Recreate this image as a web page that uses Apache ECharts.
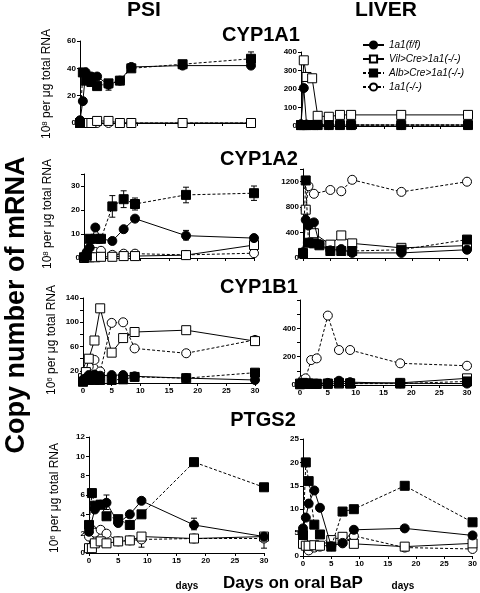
<!DOCTYPE html>
<html><head><meta charset="utf-8">
<script src="https://cdn.jsdelivr.net/npm/echarts@6/dist/echarts.min.js"></script>
<style>html,body{margin:0;padding:0;background:#fff}#c{width:480px;height:593px}</style>
</head><body><div id="c"></div>
<script>
// ---- DATA ----
const days = [0, 0.5, 1, 2, 3, 5, 7, 9, 18, 30];
const names = ['1a1(f/f)', 'Vil>Cre>1a1(-/-)', 'Alb>Cre>1a1(-/-)', '1a1(-/-)'];

// CYP1A1
const cyp1a1_psi_ff  = [2, 16, 37, 34, 34, 28, 31, 41, 42, 42];
const cyp1a1_psi_vil = [0, 0, 0, 0, 1.5, 1.5, 0, 0, 0, 0];
const cyp1a1_psi_alb = [0, 37, 31, 30, 27, 29, 31, 40, 43, 47];
const cyp1a1_psi_ko  = [0, 0, 0, 0, 0, 0, 0, 0, 0, 0];
const cyp1a1_liv_ff  = [10, 205, 8, 5, 5, 5, 5, 5, 5, 5];
const cyp1a1_liv_vil = [5, 355, 265, 258, 55, 50, 60, 60, 60, 60];
const cyp1a1_liv_alb = [5, 5, 5, 5, 5, 5, 5, 5, 5, 5];
const cyp1a1_liv_ko  = [5, 5, 5, 5, 5, 5, 5, 5, 5, 5];
// CYP1A2
const cyp1a2_psi_ff  = [0.5, 2.5, 4.3, 12.7, 8, 7.1, 12, 16.4, 9.3, 8.3];
const cyp1a2_psi_vil = [0, 0.3, 0.3, 0.3, 0.5, 0.5, 0.8, 0.8, 1.2, 5.4];
const cyp1a2_psi_alb = [0.3, 1, 8, 8, 8, 21.5, 24.5, 22.5, 26.3, 27];
const cyp1a2_psi_ko  = [0.5, 1.5, 2, 2.5, 3, 1.3, 1.8, 1.8, 1.3, 2];
const cyp1a2_liv_ff  = [90, 600, 510, 560, 220, 120, 140, 80, 80, 130];
const cyp1a2_liv_vil = [80, 760, null, 390, null, 210, 355, 230, 160, 195];
const cyp1a2_liv_alb = [70, 1220, 240, 230, 200, 110, 110, 110, 130, 290];
const cyp1a2_liv_ko  = [80, 760, 1130, 1010, null, 1070, 1050, 1230, 1040, 1200];
// CYP1B1
const cyp1b1_psi_ff  = [5, 8, 13, 14, 12, 13, 13, 11, 8, 5];
const cyp1b1_psi_vil = [8, 18, 40, 70, 123, 50, 74, 84, 87, 69];
const cyp1b1_psi_alb = [2, 6, 5, 5, 5, 5, 6, 10, 8, 17];
const cyp1b1_psi_ko  = [3, 20, 27, 38, 19, 99, 100, 57, 49, 71];
const cyp1b1_liv_ff  = [8, 10, 12, 12, 10, 15, 30, 20, 12, 10];
const cyp1b1_liv_vil = [10, 15, 12, 8, 8, 8, 10, 12, 15, 47];
const cyp1b1_liv_alb = [5, 10, 8, 8, 8, 10, 15, 10, 10, 25];
const cyp1b1_liv_ko  = [10, 35, 47, 176, 188, 490, 247, 247, 153, 136];
// PTGS2
const ptgs2_psi_ff  = [2.2, null, 4.5, 5.0, 5.2, 3.1, 4.0, 5.4, 2.9, 1.7];
const ptgs2_psi_vil = [0.5, 0.5, 1.0, 1.2, 1.0, 1.2, 1.3, 1.7, 1.5, 1.7];
const ptgs2_psi_alb = [2.9, 6.2, 4.9, 5.0, 3.8, 3.5, 2.9, 4.0, 9.4, 6.8];
const ptgs2_psi_ko  = [1.7, 2.4, 2.1, 2.4, 2.0, 1.2, 1.3, 1.4, 1.5, 1.5];
const ptgs2_liv_ff  = [5.9, 8.2, 11.2, 14, 10.3, 2.1, 2.8, 5.6, 5.9, 4.4];
const ptgs2_liv_vil = [2.6, 2.2, 2.2, 2.3, 2.2, 3.4, 4.1, 2.6, 2.0, 2.7];
const ptgs2_liv_alb = [4.5, 20, 16, 6.7, 4.6, 2.0, 9.5, 10, 15, 7.2];
const ptgs2_liv_ko  = [2.7, null, 1.2, 1.8, 2.0, 2.4, 2.7, 4.3, 1.8, 1.5];

// error bars [day, low, high]
const err_cyp1a1_psi = [[30, 43, 52], [5, 24, 31]];
const err_cyp1a2_psi = [[5, 17, 26], [7, 21, 28], [9, 20, 25], [18, 23, 29.5], [30, 24, 30], [18, 7.5, 11.5]];
const err_cyp1b1_psi = [[5, 94, 104]];
const err_ptgs2_psi  = [[3, 4.5, 6.0], [18, 2.4, 3.6], [9, 0.6, 1.8], [30, 0.5, 1.5]];

// ---- BUILD ----
const panels = [
  {g:{left:80, top:41, width:171, height:82}, y:[0,60,20], xl:false, s:[cyp1a1_psi_ff,cyp1a1_psi_vil,cyp1a1_psi_alb,cyp1a1_psi_ko], e:err_cyp1a1_psi},
  {g:{left:301, top:52, width:167, height:74}, y:[0,400,100], xl:false, s:[cyp1a1_liv_ff,cyp1a1_liv_vil,cyp1a1_liv_alb,cyp1a1_liv_ko]},
  {g:{left:84, top:174, width:170, height:84}, y:[0,35,10], xl:false, s:[cyp1a2_psi_ff,cyp1a2_psi_vil,cyp1a2_psi_alb,cyp1a2_psi_ko], e:err_cyp1a2_psi, lf:v=>v>30?'':v},
  {g:{left:303, top:169, width:164, height:89}, y:[0,1400,400], xl:false, s:[cyp1a2_liv_ff,cyp1a2_liv_vil,cyp1a2_liv_alb,cyp1a2_liv_ko], lf:v=>v>1200?'':v},
  {g:{left:83, top:298, width:172, height:85}, y:[0,140,20], xl:true, s:[cyp1b1_psi_ff,cyp1b1_psi_vil,cyp1b1_psi_alb,cyp1b1_psi_ko], e:err_cyp1b1_psi, lf:v=>((v-20)%40===0)?v:''},
  {g:{left:300, top:300, width:167, height:85}, y:[0,600,100], xl:true, s:[cyp1b1_liv_ff,cyp1b1_liv_vil,cyp1b1_liv_alb,cyp1b1_liv_ko], lf:v=>(v%200===0 && v<600)?v:''},
  {g:{left:89, top:437, width:175, height:116}, y:[0,12,2], xl:true, s:[ptgs2_psi_ff,ptgs2_psi_vil,ptgs2_psi_alb,ptgs2_psi_ko], e:err_ptgs2_psi},
  {g:{left:303, top:439, width:173, height:117}, y:[0,25,5], xl:true, s:[ptgs2_liv_ff,ptgs2_liv_vil,ptgs2_liv_alb,ptgs2_liv_ko]}
];

const styles = [
  {symbol:'circle', fill:'#000', dash:'solid'},
  {symbol:'rect', fill:'#fff', dash:'solid'},
  {symbol:'rect', fill:'#000', dash:[3,2]},
  {symbol:'circle', fill:'#fff', dash:[3,2]}
];
const drawOrder = [3, 1, 2, 0];
const FONT = 'Liberation Sans, Arial, sans-serif';

const grid = [], xAxis = [], yAxis = [], series = [];
panels.forEach((p, i) => {
  grid.push(Object.assign({containLabel:false}, p.g));
  xAxis.push({type:'value', gridIndex:i, min:0, max:30, interval:5,
    axisLine:{show:true, onZero:false, lineStyle:{color:'#000', width:1}},
    axisTick:{show:true, length:3, lineStyle:{color:'#000'}},
    axisLabel:{show:p.xl, fontSize:8, fontWeight:'bold', color:'#000', margin:4, fontFamily:FONT},
    splitLine:{show:false}});
  yAxis.push({type:'value', gridIndex:i, min:p.y[0], max:p.y[1], interval:p.y[2],
    axisLine:{show:true, lineStyle:{color:'#000', width:1}},
    axisTick:{show:true, length:3, lineStyle:{color:'#000'}},
    axisLabel:{fontSize:8, fontWeight:'bold', color:'#000', margin:4, fontFamily:FONT, formatter:p.lf || (v=>v)},
    splitLine:{show:false}});
  drawOrder.forEach((k, oi) => {
    const st = styles[k];
    const data = [];
    days.forEach((d, j) => { if (p.s[k][j] != null) data.push([d, p.s[k][j]]); });
    series.push({type:'line', name:names[k], xAxisIndex:i, yAxisIndex:i, data,
      symbol:st.symbol, symbolSize:9, showSymbol:true, connectNulls:true, animation:false,
      lineStyle:{color:'#000', width:1, type:st.dash},
      itemStyle:{color:st.fill, borderColor:'#000', borderWidth:1},
      z:3 + oi});
  });
  if (p.e) {
    series.push({type:'custom', xAxisIndex:i, yAxisIndex:i, data:p.e, z:2, animation:false,
      encode:{x:0, y:[1,2]},
      renderItem:(params, api) => {
        const x = api.value(0), lo = api.value(1), hi = api.value(2);
        const a = api.coord([x, lo]), b = api.coord([x, hi]);
        const w = 3, s = {stroke:'#000', lineWidth:1};
        return {type:'group', children:[
          {type:'line', shape:{x1:a[0], y1:a[1], x2:b[0], y2:b[1]}, style:s},
          {type:'line', shape:{x1:a[0]-w, y1:a[1], x2:a[0]+w, y2:a[1]}, style:s},
          {type:'line', shape:{x1:b[0]-w, y1:b[1], x2:b[0]+w, y2:b[1]}, style:s}
        ]};
      }});
  }
});

function txt(x, y, text, font, rot) {
  return {type:'text', x, y, rotation:rot||0, silent:true,
    style:{text, font, fill:'#000', align:'center', verticalAlign:'middle'}};
}
function unitLabel(x, y, exp) {
  return {type:'text', x, y, rotation:Math.PI/2, silent:true,
    style:{text:'{n|10}{s|' + exp + '}{n| per μg total RNA}', align:'center', verticalAlign:'middle', fill:'#000',
      rich:{n:{fontSize:12, fontFamily:FONT, fill:'#000', verticalAlign:'bottom'}, s:{fontSize:8, fontFamily:FONT, fill:'#000', verticalAlign:'top'}}}};
}

const graphic = [
  txt(144, 10, 'PSI', 'bold 21px ' + FONT),
  txt(386, 10, 'LIVER', 'bold 21px ' + FONT),
  txt(261, 35, 'CYP1A1', 'bold 20px ' + FONT),
  txt(259, 159, 'CYP1A2', 'bold 20px ' + FONT),
  txt(259, 287, 'CYP1B1', 'bold 20px ' + FONT),
  txt(263, 420, 'PTGS2', 'bold 20px ' + FONT),
  txt(17, 305, 'Copy number of mRNA', 'bold 27px ' + FONT, Math.PI/2),
  unitLabel(47, 84, '8'),
  unitLabel(48, 214, '8'),
  unitLabel(52, 340, '6'),
  unitLabel(55, 498, '6'),
  txt(187, 586, 'days', 'bold 10px ' + FONT),
  txt(403, 586, 'days', 'bold 10px ' + FONT),
  txt(293, 583, 'Days on oral BaP', 'bold 17px ' + FONT)
];

const chart = echarts.init(document.getElementById('c'), null, {renderer:'canvas'});
chart.setOption({
  animation:false,
  backgroundColor:'#fff',
  grid, xAxis, yAxis, series, graphic,
  legend:{orient:'vertical', left:362, top:40, itemWidth:21, itemHeight:9, itemGap:4, padding:0,
    data:names, selectedMode:false,
    textStyle:{fontStyle:'italic', fontSize:10, color:'#000', fontFamily:FONT}}
});
</script></body></html>
